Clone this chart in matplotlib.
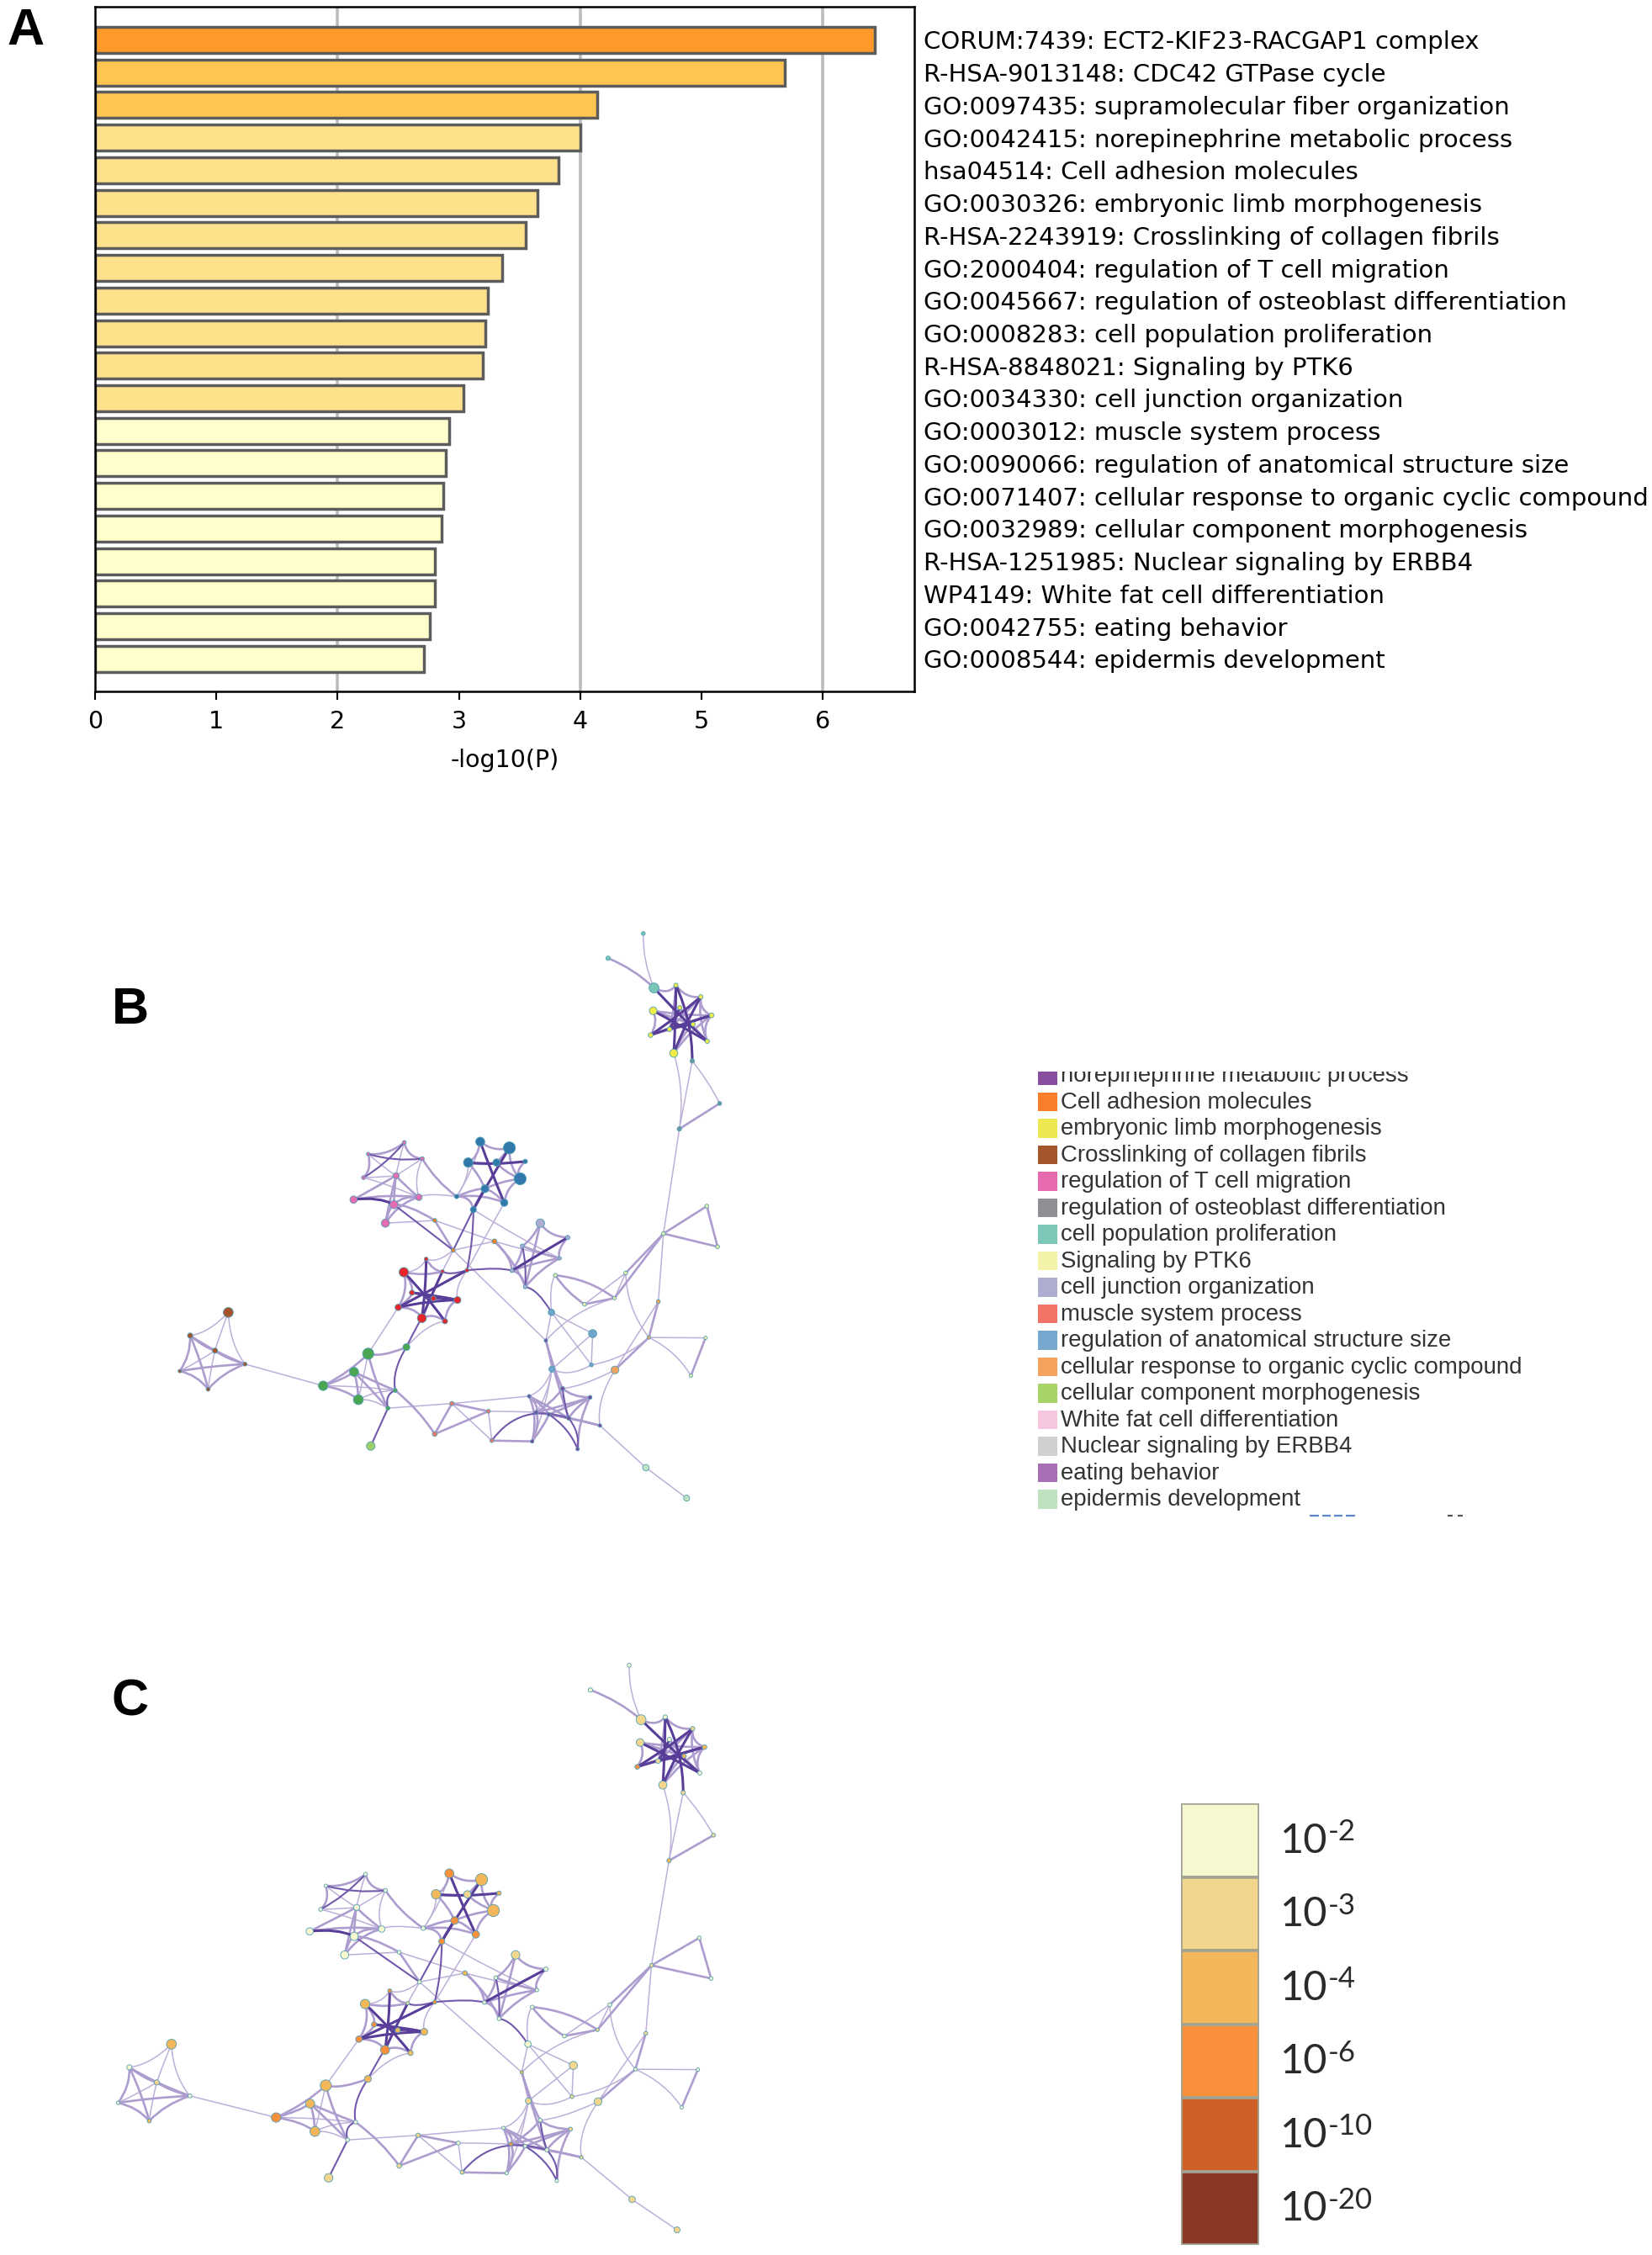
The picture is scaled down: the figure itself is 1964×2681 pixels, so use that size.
#enrichment bar chart + the two cluster networks (B: by cluster, C: by p-value)

import numpy as np
import matplotlib
matplotlib.use('Agg')
import matplotlib.pyplot as plt
from matplotlib.path import Path
from matplotlib.patches import PathPatch

W, H = 1965, 2681

# ---- A ----
terms = ['CORUM:7439: ECT2-KIF23-RACGAP1 complex', 'R-HSA-9013148: CDC42 GTPase cycle',
         'GO:0097435: supramolecular fiber organization', 'GO:0042415: norepinephrine metabolic process',
         'hsa04514: Cell adhesion molecules', 'GO:0030326: embryonic limb morphogenesis',
         'R-HSA-2243919: Crosslinking of collagen fibrils', 'GO:2000404: regulation of T cell migration',
         'GO:0045667: regulation of osteoblast differentiation', 'GO:0008283: cell population proliferation',
         'R-HSA-8848021: Signaling by PTK6', 'GO:0034330: cell junction organization',
         'GO:0003012: muscle system process', 'GO:0090066: regulation of anatomical structure size',
         'GO:0071407: cellular response to organic cyclic compound', 'GO:0032989: cellular component morphogenesis',
         'R-HSA-1251985: Nuclear signaling by ERBB4', 'WP4149: White fat cell differentiation',
         'GO:0042755: eating behavior', 'GO:0008544: epidermis development']
log_p = [6.43, 5.69, 4.14, 4.00, 3.82, 3.65, 3.55, 3.36, 3.24, 3.22,
         3.20, 3.04, 2.92, 2.89, 2.87, 2.855, 2.80, 2.80, 2.76, 2.71]
bar_colors = ['#ff9a2a', '#ffc550', '#ffc550'] + ['#ffe18c'] * 9 + ['#ffffcc'] * 8

# ---- B legend ----
legend_names = ['norepinephrine metabolic process', 'Cell adhesion molecules', 'embryonic limb morphogenesis',
                'Crosslinking of collagen fibrils', 'regulation of T cell migration',
                'regulation of osteoblast differentiation', 'cell population proliferation', 'Signaling by PTK6',
                'cell junction organization', 'muscle system process', 'regulation of anatomical structure size',
                'cellular response to organic cyclic compound', 'cellular component morphogenesis',
                'White fat cell differentiation', 'Nuclear signaling by ERBB4', 'eating behavior',
                'epidermis development']
legend_colors = ['#8a4ea0', '#f97d2a', '#ede84f', '#a5562e', '#e769ae', '#8f8f94', '#7bc8b8', '#f3f2a6', '#adadd2',
                 '#f27468', '#76a9cd', '#f3a35e', '#a8d368', '#f6c5de', '#cfcfcf', '#a96fb5', '#bfe2c0']

# ---- C scale ----
scale_exps = ['-2', '-3', '-4', '-6', '-10', '-20']
scale_colors = ['#f7f7d0', '#f3d68e', '#f3b759', '#f9913c', '#cf6128', '#8a3826']

# ---- network ----
node_x = [1379, 1437, 1462, 1452, 1374, 1320, 1326, 1388, 1364, 1419, 1328, 1221, 1303, 1417, 1481, 1387,
          1451, 1476, 1350, 1098, 1262, 1166, 1236,
          923, 991, 895, 961, 1028, 1016, 934, 979, 907, 868,
          746, 662, 788, 651, 727, 780, 628, 722, 702,
          817, 956, 860,
          797, 835, 892, 745, 764, 814, 870, 732, 787, 841,
          751, 662, 629, 557, 639, 725, 708, 668,
          336, 247, 305, 375, 223, 289,
          1063, 1127, 1021, 1108, 997, 1028,
          1089, 1185, 1182, 1090, 1076,
          1338, 1316, 1237, 1448, 1414,
          1115, 1179, 1037, 1053, 1083, 1129, 1202, 1150, 1044,
          857, 942, 817, 950, 1309, 1404]
node_y = [199, 229, 277, 344, 375, 328, 265, 257, 313, 300, 206, 129, 65, 395, 505, 571,
          771, 876, 842, 950, 944, 1025, 1009,
          604, 620, 658, 658, 655, 700, 726, 762, 780, 746,
          606, 636, 648, 697, 692, 748, 754, 767, 815,
          808, 862, 885,
          908, 940, 937, 942, 995, 1010, 1014, 1033, 1061, 1069,
          1136, 1153, 1200, 1236, 1272, 1248, 1294, 1392,
          1046, 1106, 1145, 1180, 1198, 1245,
          815, 852, 874, 906, 938, 980,
          1046, 1101, 1182, 1193, 1119,
          1018, 1111, 1195, 1112, 1210,
          1243, 1266, 1263, 1305, 1310, 1320, 1339, 1400, 1380,
          1282, 1302, 1361, 1378, 1448, 1527]
node_size = [10, 10, 11, 10, 19, 11, 18, 10, 11, 10, 23, 10, 9, 10, 9, 10,
             9, 9, 9, 9, 9, 9, 8,
             21, 28, 22, 17, 10, 28, 18, 17, 14, 10,
             9, 8, 9, 9, 14, 15, 17, 19, 19,
             9, 11, 9,
             9, 8, 9, 22, 12, 12, 16, 15, 21, 12,
             16, 26, 21, 22, 23, 9, 9, 20,
             23, 12, 12, 9, 8, 9,
             20, 10, 9, 8, 9, 9,
             15, 19, 9, 14, 8,
             9, 8, 18, 8, 8,
             9, 9, 8, 9, 8, 9, 8, 8, 8,
             10, 9, 11, 9, 15, 14]
# cluster colour of every node in panel B
group_colors = {'yellow': '#f2ea45', 'teal': '#79c6b6', 'slate': '#6c98a0', 'pale': '#eef0a8', 'blue': '#3279ab',
                'pink': '#e56cb0', 'orange': '#f57f1f', 'red': '#e8252a', 'green': '#4aa650', 'lime': '#9ccf6a',
                'brown': '#a5532a', 'lav': '#adadd2', 'sky': '#6fa5cb', 'purple': '#7b4a9e', 'peach': '#f3a35e',
                'salmon': '#f27468', 'mint': '#bfe2c0'}
node_group = ['yellow'] * 10 + ['teal'] * 3 + ['slate'] * 3 + ['pale'] * 7 + ['blue'] * 10 + ['pink'] * 9 \
    + ['orange'] * 3 + ['red'] * 10 + ['green'] * 7 + ['lime'] + ['brown'] * 6 + ['lav'] * 6 + ['sky'] * 4 \
    + ['purple'] + ['peach'] * 3 + ['pale'] * 2 + ['purple'] * 9 + ['salmon'] * 4 + ['mint'] * 2
# index into scale_colors for panel C
node_level = [0, 1, 2, 0, 1, 3, 1, 0, 1, 2, 1, 0, 0, 1, 1, 2,
              0, 0, 1, 0, 0, 0, 1,
              3, 2, 2, 1, 2, 2, 3, 3, 3, 0,
              0, 0, 0, 0, 0, 0, 0, 0, 0,
              0, 2, 0,
              3, 1, 3, 2, 3, 2, 2, 3, 3, 2,
              2, 2, 2, 3, 2, 0, 0, 1,
              2, 0, 1, 0, 0, 2,
              1, 0, 0, 0, 0, 0,
              0, 1, 1, 1, 2,
              1, 0, 1, 0, 0,
              0, 1, 0, 3, 0, 0, 1, 0, 0,
              1, 0, 1, 1, 1, 1]

# (from, to, strength) or (from, to, strength, curve)
edges = [
    (0, 4, 4), (6, 3, 4), (5, 1, 4), (5, 2, 4), (10, 3, 4), (4, 1, 4), (13, 0, 4, -0.1), (7, 8, 4), (9, 8, 4),
    (8, 2, 4), (0, 1, 2), (1, 2, 2), (2, 3, 2), (5, 6, 2), (6, 2, 2), (0, 10, 2), (1, 3, 2), (7, 3, 2), (9, 5, 2),
    (9, 6, 2), (8, 1, 2), (0, 8, 2), (4, 9, 2), (4, 2, 2), (6, 9, 2), (10, 11, 2, -0.1), (10, 12, 1, 0.1),
    (4, 15, 1, 0.1), (13, 15, 1), (13, 14, 1, 0.05), (14, 15, 2), (15, 18, 1), (18, 16, 2), (18, 17, 2), (16, 17, 2),
    (18, 20, 2), (18, 22, 2), (20, 22, 1), (20, 21, 1), (19, 22, 2, 0.15), (19, 21, 2, -0.1), (21, 22, 2), (18, 80, 1),
    (80, 81, 2), (81, 82, 2), (81, 83, 1), (81, 84, 1, 0.15), (83, 84, 2), (20, 81, 1, -0.15), (82, 91, 1), (82, 85, 1),
    (77, 81, 1, -0.15), (80, 82, 1),
    (24, 31, 4), (25, 27, 4), (23, 30, 4), (29, 31, 4), (23, 25, 2), (23, 24, 2), (24, 26, 2), (25, 26, 2), (26, 28, 2),
    (29, 32, 2), (30, 32, 2), (31, 32, 2), (29, 30, 2), (27, 28, 2), (24, 28, 2), (30, 28, 2), (29, 28, 2), (25, 29, 2),
    (23, 32, 1), (25, 32, 1), (32, 38, 1), (32, 35, 2, 0.1),
    (39, 40, 4), (39, 38, 2), (34, 35, 3), (36, 33, 3), (33, 35, 2), (33, 34, 2), (34, 36, 2), (34, 37, 1), (36, 37, 1),
    (36, 38, 1), (37, 40, 2), (37, 41, 2), (37, 38, 2), (37, 39, 2), (38, 40, 2), (38, 41, 2), (40, 41, 2), (33, 37, 1),
    (35, 37, 1), (35, 38, 1), (40, 42, 2), (40, 44, 3), (41, 42, 1), (42, 44, 2), (42, 43, 1), (43, 44, 1), (44, 79, 1),
    (31, 44, 3), (31, 47, 3, 0.05), (30, 47, 1), (31, 72, 1), (44, 45, 1), (44, 46, 1),
    (70, 73, 4), (71, 74, 3), (69, 74, 2), (69, 70, 2), (69, 71, 2), (70, 72, 2), (71, 72, 2), (72, 73, 2), (73, 74, 2),
    (71, 73, 2), (72, 74, 2), (47, 73, 3), (43, 73, 2), (43, 74, 2), (74, 75, 3), (19, 75, 1), (43, 72, 1), (75, 79, 1),
    (75, 76, 1), (75, 77, 1), (76, 77, 1), (76, 78, 1), (78, 79, 1), (79, 85, 2), (79, 90, 2), (79, 22, 1, 0.15),
    (78, 87, 1), (78, 88, 1), (78, 93, 1), (77, 78, 1),
    (48, 54, 4), (45, 53, 4), (52, 47, 4), (52, 51, 4), (49, 50, 4), (50, 51, 4), (53, 46, 4), (49, 51, 4), (48, 46, 2),
    (46, 47, 3), (48, 49, 2), (48, 52, 2), (52, 49, 2), (52, 53, 2), (53, 54, 2), (51, 54, 2), (47, 51, 1), (45, 46, 2),
    (45, 48, 1), (53, 55, 3), (54, 55, 1), (52, 56, 1),
    (55, 56, 2), (55, 60, 3), (60, 61, 3), (56, 58, 2), (57, 58, 2), (58, 59, 2), (58, 60, 1), (57, 59, 2), (57, 60, 2),
    (57, 61, 2), (56, 61, 2), (59, 60, 1), (59, 61, 1), (56, 59, 1), (61, 62, 3), (60, 96, 2, 0.08), (61, 94, 1), (94, 87, 1),
    (66, 58, 1), (63, 64, 1), (63, 65, 1), (63, 66, 1), (64, 66, 2), (64, 65, 2), (64, 68, 2), (64, 67, 2), (65, 66, 2),
    (66, 67, 2), (66, 68, 2), (67, 68, 2), (65, 67, 1), (65, 68, 1),
    (94, 96, 2), (94, 95, 2), (94, 97, 1), (95, 96, 2), (95, 97, 1), (97, 90, 3, 0.4), (97, 93, 2), (95, 88, 1), (87, 93, 2),
    (88, 93, 2), (89, 93, 2), (87, 90, 2), (87, 88, 2), (87, 89, 2), (85, 88, 2), (85, 86, 2), (85, 90, 3), (86, 88, 2),
    (86, 89, 2), (86, 90, 2), (88, 90, 2), (88, 91, 2), (89, 91, 2), (90, 92, 3, 0.2), (89, 92, 3, 0.15), (86, 92, 2),
    (91, 98, 1), (98, 99, 1),
]
# centre of each dense cluster, the edges around it sag towards this point
hub_x = [1385, 945, 715, 810, 1050, 290, 650, 1110]
hub_y = [295, 690, 700, 990, 900, 1170, 1220, 1300]

edge_style = {1: ('#bdb0d8', 1.1), 2: ('#ad9dcf', 1.9), 3: ('#7259ab', 1.5), 4: ('#583d99', 2.2)}


def px_axes(x0, y0, x1, y1):
    return fig.add_axes([x0 / W, 1 - y1 / H, (x1 - x0) / W, (y1 - y0) / H])


def draw_network(ax, colors):
    for e in sorted(edges, key=lambda v: v[2]):
        a, b, w = e[:3]
        p = np.array([node_x[a], node_y[a]], dtype=float)
        q = np.array([node_x[b], node_y[b]], dtype=float)
        mid = (p + q) / 2
        if len(e) == 4:
            d = q - p
            ctrl = mid + e[3] * np.array([d[1], -d[0]])
        else:
            dist = np.hypot(np.array(hub_x) - mid[0], np.array(hub_y) - mid[1])
            i = dist.argmin()
            ctrl = mid
            if dist[i] < 120:
                ctrl = mid + 0.25 * (np.array([hub_x[i], hub_y[i]]) - mid)
        c, lw = edge_style[w]
        ax.add_patch(PathPatch(Path([p, ctrl, q], [Path.MOVETO, Path.CURVE3, Path.CURVE3]),
                               fc='none', ec=c, lw=lw, zorder=w))
    sizes = (np.array(node_size) / 1.96 * 0.72) ** 2
    ax.scatter(node_x, node_y, s=sizes, c=colors, edgecolors='#4f9fb5', linewidths=0.6, zorder=5)
    ax.axis('off')


fig = plt.figure(figsize=(W / 100, H / 100), dpi=100, facecolor='white')
plt.rcParams['font.family'] = 'DejaVu Sans'

# ---- panel A ----
ax = px_axes(113, 8, 1087, 822)
y = np.arange(len(terms))
for xg in [2, 4, 6]:
    ax.axvline(xg, c='#bcbcbc', lw=2.6, zorder=1)
ax.barh(y, log_p, height=0.8, color=bar_colors, edgecolor='#5c5c5c', linewidth=2.5, zorder=2)
ax.set_xlim(0, 6.755)
ax.set_ylim(20.0, -1.02)
ax.yaxis.tick_right()
ax.set_yticks(y)
ax.set_yticklabels(terms, fontsize=21)
ax.tick_params(axis='y', length=0, pad=8)
ax.set_xticks(range(7))
ax.tick_params(axis='x', length=7.5, width=1.5, labelsize=20.5, pad=8)
ax.set_xlabel('-log10(P)', fontsize=20.5, labelpad=13)
for s in ax.spines.values():
    s.set_linewidth(1.8)

# ---- panel B ----
ax = px_axes(100, 1080, 900, 1800)
ax.set_xlim(0, 1568)
ax.set_ylim(1568, 0)
draw_network(ax, [group_colors[g] for g in node_group])

# B legend, the crop of the original cuts the first row
ax = px_axes(1225, 1274, 1860, 1812)
rows = np.arange(len(legend_names))
ax.set_xlim(1225, 1860)
ax.set_ylim((1812 - 1278.5) / 31.5, (1274 - 1278.5) / 31.5)
ax.barh(rows, [23] * len(rows), left=1234, height=0.72, color=legend_colors)
for r, name in zip(rows, legend_names):
    ax.text(1261, r + 0.03, name, fontsize=19.9, color='#333333', va='center', family='Liberation Sans', clip_on=True)
ax.hlines([16.63] * 4, [1557, 1572, 1586, 1600], [1568, 1582, 1596, 1611], color='#5b86c8', lw=1.6)
ax.hlines([16.63] * 2, [1721, 1733], [1727, 1739], color='#555555', lw=1.6)
ax.axis('off')

# ---- panel C ----
ax = px_axes(100, 1950, 900, 2670)
ax.set_xlim(151.4, 1573)
ax.set_ylim(1568, 0)
draw_network(ax, [scale_colors[v] for v in node_level])

# C colour scale
ax = px_axes(1404, 2144, 1497, 2669)
rows = np.arange(len(scale_exps))
ax.barh(rows, [1] * len(rows), height=1, color=scale_colors, edgecolor='#a3a394', linewidth=2.6)
ax.set_xlim(0, 1)
ax.set_ylim(5.5, -0.5)
for r, e in zip(rows, scale_exps):
    ax.text(1.27, r + 0.01, '10', fontsize=35, family='Lato', color='#2a2a2a', va='center', clip_on=False)
    ax.text(1.88, r - 0.11, e, fontsize=25, family='Lato', color='#2a2a2a', va='center', clip_on=False)
ax.axis('off')

# panel letters
for letter, xp, yp in [('A', 8, 53), ('B', 133, 1217), ('C', 133, 2040)]:
    fig.text(xp / W, 1 - yp / H, letter, fontsize=44, fontweight='bold', family='Liberation Sans', va='baseline')

fig.savefig('out.png', dpi=100, facecolor='white')
